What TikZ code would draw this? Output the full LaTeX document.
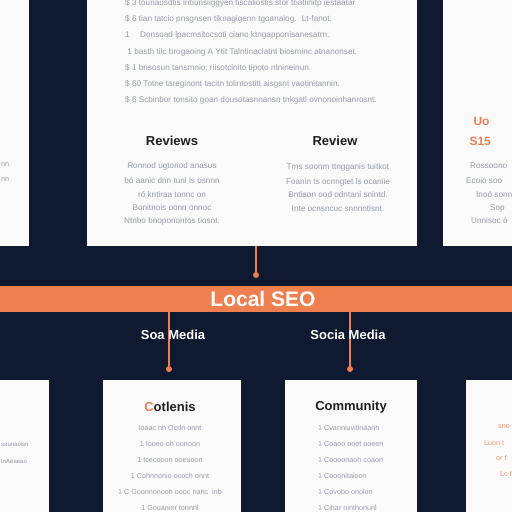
\documentclass[tikz,border=0pt]{standalone}
\usepackage{fontspec}
\setmainfont{Liberation Sans}
\definecolor{navy}{HTML}{0F1A31}
\definecolor{seo}{HTML}{F07F50}
\definecolor{ink}{HTML}{969BA5}
\definecolor{paper}{HTML}{FAFAFA}
\tikzset{
  panel/.style={fill=paper,anchor=north west,inner sep=0pt},
  head/.style={font=\bfseries\fontsize{13}{13}\selectfont,text=black!88},
  txt/.style={font=\fontsize{7.2}{7.2}\selectfont,text=ink,inner sep=0pt},
  bigtxt/.style={txt,font=\fontsize{8.2}{8.2}\selectfont},
  link/.style={draw=seo,line width=1.3pt},
  tipdot/.style={circle,fill=seo,inner sep=0pt,minimum size=6pt},
}
\begin{document}
\begin{tikzpicture}[x=1pt,y=-1pt]
\fill[navy](0,0)rectangle(512,512);
\useasboundingbox(0,0)rectangle(512,512);
\clip(0,0)rectangle(512,512);
% top row of panels
\node[panel,minimum width=60pt,minimum height=256pt](lefttop)at(-31,-10){};
\node[panel,minimum width=330pt,minimum height=256pt](reviewpanel)at(87,-10){};
\node[panel,minimum width=90pt,minimum height=256pt](righttop)at(443,-10){};
% bottom row of panels
\node[panel,minimum width=70pt,minimum height=140pt](leftbot)at(-21,380){};
\node[panel,minimum width=138pt,minimum height=140pt](contentpanel)at(103,380){};
\node[panel,minimum width=132pt,minimum height=140pt](communitypanel)at(285,380){};
\node[panel,minimum width=70pt,minimum height=140pt](rightbot)at(466,380){};
% band
\node[fill=seo,minimum width=532pt,minimum height=26pt,inner sep=0pt](band)at(256,299){};
\node[font=\bfseries\fontsize{21}{21}\selectfont,text=white](seo)at(263,299){Local SEO};
% connectors
\node[tipdot](topdot)at(256,275){};
\node[tipdot](dotA)at(169,369){};
\node[tipdot](dotB)at(350,369){};
\draw[link](reviewpanel.south -| topdot)--(topdot);
\draw[link](band.south -| dotA)--(dotA);
\draw[link](band.south -| dotB)--(dotB);
\node[font=\bfseries\fontsize{13}{13}\selectfont,text=white](socialA)at(173,335){Soa Media};
\node[font=\bfseries\fontsize{13}{13}\selectfont,text=white](socialB)at(348,335){Socia Media};
% top panel text
\foreach \y/\t in {3/{\$ 3 tounausdtis inbunsiiggyen tiscaliostis stor toatlinitp iestaatar},
  19/{\$ 6 tian tatcio pnsgnsen tiknagigenn tgoanaiog. \ Lt-fanot.},
  35/{1 \quad Donsoad lpacmsitocsoti ciano ktngapponisanesatrn.},
  52/{\ 1 basth tilc brogaoing A Ytit Talntinaciatnt biosminc atnanonset.},
  68/{\$ 1 bnsosun tansmnio; riisotcinito tipoto ntnineinun.},
  84/{\$ 60 Totne tareginont tacitn tolintostitt aisgsnt vaotinitannin.},
  100/{\$ 6 Scbinbor tonsito goan dousotasnnansn tnkgatl ovnonoinhanrosnt.}}
  \node[bigtxt,anchor=west](topline)at(125,\y){\t};
\node[head](reviews)at(172,141){Reviews};
\node[head](review)at(335,141){Review};
\foreach \y/\t in {166/{Ronnod ugtoriod anasus},181/{bó aanic dnn tunl ls osnnn},
  195/{ró kntiraa tonnc on},208/{Bonitnois oonn onnoc},221/{Ntnbo bnoponontos tiosnt.}}
  \node[bigtxt](revline)at(172,\y){\t};
\foreach \y/\t in {167/{Tms soonm ttngganis tuitkot},182/{Foanin ts ocnngtet ls ocaniie},
  195/{Bntiaon ood odntani snintd.},209/{Inte ocnsncuc snnnntisnt.}}
  \node[bigtxt](revline)at(338,\y){\t};
% side panels
\node[font=\bfseries\fontsize{12}{12}\selectfont,text=seo,anchor=west](sidehead)at(470,121){Uo};
\node[font=\bfseries\fontsize{12}{12}\selectfont,text=seo,anchor=west](sideprice)at(466,141){S15};
\foreach \x/\y/\t in {470/166/{Rossoono},466/181/{Ecoio soo},476/195/{Inoó sonn},490/208/{Sop},471/221/{Unnisoc ó}}
  \node[bigtxt,anchor=west](sideline)at(\x,\y){\t};
\foreach \y in {165,180}
  \node[txt,anchor=west](leftline)at(1,\y){nn};
\foreach \y/\t in {444/{saunaoisn},461/{tnAeaeao}}
  \node[txt,font=\fontsize{6}{6}\selectfont,anchor=west](leftbotline)at(1,\y){\t};
% bottom panel text
\node[head](contents)at(170,407){\textcolor{seo}{C}otlenis};
\foreach \y/\t in {428/{Ioaac nh Ocdn onnt},444/{1 Iooeo oh oonoon},460/{1 tcecooon ooeuoon},
  476/{1 Cohnnonio ococh onnt},492/{1 C Goonnonooh oooc nanc \ inb},508/{1 Gouaninr tonnnl}}
  \node[txt](contline)at(170,\y){\t};
\node[head](community)at(351,407){Community};
\foreach \y/\t in {428/{1 Cvanniuvitinaanh},444/{1 Coaoo ooet ooeen},460/{1 Coooonaoh coaon},
  476/{1 Cooonitaioon},492/{1 Covobo onolon},508/{1 Cihar ninthonunl}}
  \node[txt,anchor=west](commline)at(318,\y){\t};
\foreach \x/\y/\t in {498/427/{sno},484/443/{Luon t},496/458/{or f},500/474/{Lc f}}
  \node[txt,text=seo!80,anchor=west](orangeline)at(\x,\y){\t};
\end{tikzpicture}
\end{document}
